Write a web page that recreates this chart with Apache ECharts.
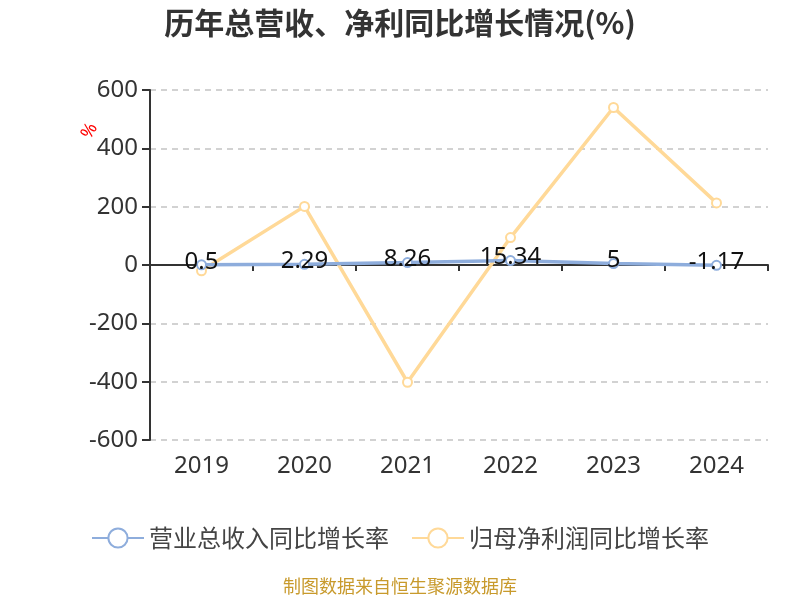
<!DOCTYPE html>
<html><head><meta charset="utf-8">
<script src="https://cdn.jsdelivr.net/npm/echarts@6/dist/echarts.min.js"></script>
<style>html,body{margin:0;padding:0;background:#fff}#c{width:800px;height:600px}</style>
</head><body><div id="c"></div>
<script>
const years = ['2019','2020','2021','2022','2023','2024'];
const revenueGrowth = [0.5, 2.29, 8.26, 15.34, 5, -1.17];
const profitGrowth = [-20, 201, -402, 94, 540, 213];
const yTicks = {min: -600, max: 600, interval: 200};
const seriesNames = ['营业总收入同比增长率', '归母净利润同比增长率'];

const chart = echarts.init(document.getElementById('c'));
chart.setOption({
  backgroundColor: '#fff',
  title: {
    text: '历年总营收、净利同比增长情况(%)', left: 'center', top: 3,
    textStyle: {fontSize: 30, fontWeight: 'bold', color: '#333', fontFamily: 'Noto Sans CJK SC'}
  },
  legend: {
    data: seriesNames, bottom: 45, itemWidth: 52, itemHeight: 24, itemGap: 22,
    textStyle: {fontSize: 24, color: '#444', fontFamily: 'Noto Sans CJK SC'}
  },
  grid: {left: 150, right: 32, top: 90, bottom: 160},
  xAxis: [{
    type: 'category', data: years,
    axisLine: {onZero: true, lineStyle: {color: '#333', width: 2}},
    axisTick: {show: true, lineStyle: {color: '#333', width: 2}, length: 6},
    axisLabel: {show: false}
  }, {
    type: 'category', data: years, position: 'bottom',
    axisLine: {show: false, onZero: false}, axisTick: {show: false},
    axisLabel: {fontSize: 24, color: '#333', margin: 14, fontFamily: 'Noto Sans'}
  }],
  yAxis: {
    type: 'value', min: yTicks.min, max: yTicks.max, interval: yTicks.interval,
    axisLine: {show: true, lineStyle: {color: '#333', width: 2}},
    axisTick: {show: true, length: 8, lineStyle: {color: '#333', width: 2}},
    axisLabel: {fontSize: 24, color: '#333', margin: 12, fontFamily: 'Noto Sans'},
    splitLine: {lineStyle: {type: [6, 5], color: '#c4c4c4', width: 1.5}}
  },
  graphic: [{
    type: 'text', left: 78, top: 120, rotation: Math.PI / 3,
    style: {text: '%', fill: '#ff0000', fontSize: 18, fontFamily: 'Noto Sans'}
  }, {
    type: 'text', left: 'center', top: 577,
    style: {text: '制图数据来自恒生聚源数据库', fill: '#c89a2c', fontSize: 18, fontFamily: 'Noto Sans CJK SC'}
  }],
  series: [{
    name: seriesNames[0], type: 'line', data: revenueGrowth, z: 3,
    symbol: 'emptyCircle', symbolSize: 9,
    itemStyle: {color: '#8eaddc', borderWidth: 2},
    lineStyle: {width: 3.5, color: '#8eaddc'},
    label: {show: true, position: 'inside', fontSize: 24, color: '#111', fontFamily: 'Noto Sans', offset: [0, -3]}
  }, {
    name: seriesNames[1], type: 'line', data: profitGrowth, z: 2,
    symbol: 'emptyCircle', symbolSize: 9,
    itemStyle: {color: '#ffd998', borderWidth: 2},
    lineStyle: {width: 3.5, color: '#ffd998'},
    label: {show: false}
  }]
});
</script></body></html>
